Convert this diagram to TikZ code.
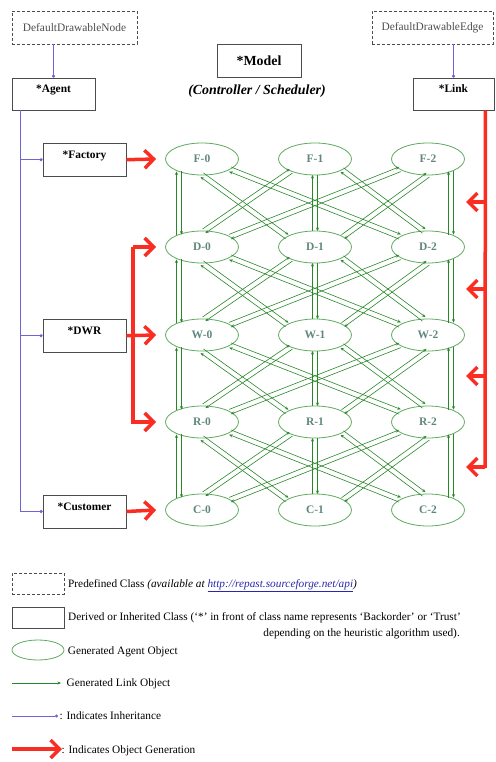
\documentclass[tikz,border=0pt]{standalone}
\usepackage{fontspec}
\setmainfont{Liberation Serif}
\usetikzlibrary{arrows.meta,calc,shapes.geometric}
\definecolor{lgreen}{RGB}{40,135,40}
\definecolor{egreen}{RGB}{95,170,95}
\definecolor{lbl}{RGB}{95,135,125}
\definecolor{inhblue}{RGB}{110,100,215}
\definecolor{genred}{RGB}{250,45,35}
\definecolor{urlblue}{RGB}{40,40,170}
\begin{document}
\begin{tikzpicture}[x=1pt,y=-1pt,
  cls/.style={draw=black!70, line width=0.8pt, inner sep=0pt, text height=7.5pt, text depth=9.5pt, font=\fontsize{11.4}{13}\selectfont\bfseries},
  pre/.style={draw=black!70, dash pattern=on 3pt off 2pt, line width=0.8pt, inner sep=0pt, font=\fontsize{11.4}{13}\selectfont, text=black!70},
  obj/.style={ellipse, draw=egreen, line width=0.8pt, minimum width=73pt, minimum height=32pt, inner sep=0pt, text=lbl, font=\fontsize{11.5}{13}\selectfont\bfseries},
  link/.style={draw=lgreen, line width=0.6pt, -{Stealth[length=3.5pt,width=3pt]}},
  inh/.style={draw=inhblue, line width=0.8pt, -{Circle[length=3pt]}},
  genline/.style={draw=genred, line width=3.5pt},
  gen/.style={draw=genred, line width=3.5pt, -{Straight Barb[length=9pt,width=18pt]}},
  lg/.style={font=\fontsize{11.3}{13}\selectfont, inner sep=0pt}
]
\useasboundingbox (0,0) rectangle (495,762);

% class boxes
\node[pre, minimum width=125pt, minimum height=33pt] (ddn) at (74.5,27.5) {DefaultDrawableNode};
\node[pre, minimum width=121pt, minimum height=33pt] (dde) at (432.5,27.5) {DefaultDrawableEdge};
\node[cls, minimum width=83pt, minimum height=32pt] (agent) at (53.5,94) {*Agent};
\node[cls, minimum width=81pt, minimum height=32pt] (link) at (453.5,94) {*Link};
\node[draw=black!70, line width=0.8pt, inner sep=0pt, minimum width=84pt, minimum height=33pt, font=\fontsize{13.9}{16}\selectfont\bfseries] (model) at (259,60.5) {*Model};
\node[inner sep=0pt, font=\fontsize{13.9}{16}\selectfont\bfseries\itshape] (ctrl) at (257,91) {(Controller / Scheduler)};
\node[cls, minimum width=83pt, minimum height=33pt] (factory) at (84.5,159.7) {*Factory};
\node[cls, minimum width=83pt, minimum height=33pt] (dwr) at (84.5,335.7) {*DWR};
\node[cls, minimum width=83pt, minimum height=33pt] (customer) at (84.5,511.5) {*Customer};

% agent objects
\foreach \r/\y in {F/159, D/247, W/335, R/422, C/510} {
  \foreach \c/\x in {0/202, 1/315, 2/428} {
    \node[obj] (\r\c) at (\x,\y) {\r-\c};
  }
}

% link objects
\foreach \u/\l in {F/D, D/W, W/R, R/C} {
  \foreach \i/\j/\ux/\lx in {0/0/-23/-23, 0/1/0/-28, 0/2/28/-28, 1/0/-24/2, 1/1/0/0, 1/2/27/-4, 2/0/-28/28, 2/1/0/28, 2/2/23/23} {
    \pgfmathsetmacro\uy{16*sqrt(1-((\ux)*(\ux))/1332)}
    \pgfmathsetmacro\ly{-16*sqrt(1-((\lx)*(\lx))/1332)}
    \coordinate (A) at ($(\u\i)+(\ux,\uy)$);
    \coordinate (B) at ($(\l\j)+(\lx,\ly)$);
    \draw[link] ($(A)!2.5pt!90:(B)$) -- ($(B)!2.5pt!-90:(A)$);
    \draw[link] ($(B)!2.5pt!90:(A)$) -- ($(A)!2.5pt!-90:(B)$);
  }
}

% inheritance
\draw[inh] (agent.north |- ddn.south) -- (agent.north);
\draw[inh] (link.north |- dde.south) -- (link.north);
\coordinate (trunk) at ([xshift=9pt]agent.south west);
\draw[inh] (trunk) |- (customer.west);
\draw[inh] (trunk |- factory.west) -- (factory.west);
\draw[inh] (trunk |- dwr.west) -- (dwr.west);

% object generation
\draw[gen] (factory.east) -- ([xshift=-9pt]F0.west);
\draw[gen] (dwr.east) -- ([xshift=-9pt]W0.west);
\draw[gen] (customer.east) -- ([xshift=-9pt]C0.west);
\coordinate (brk) at (133,247);
\draw[gen] (brk) -- ([xshift=-9pt]D0.west);
\draw[gen] (brk) |- ([xshift=-9pt]R0.west);
\coordinate (lnk) at ([xshift=-9pt]link.south east);
\coordinate (lnkend) at (485,468);
\draw[genline] (lnk) -- (lnkend);
\foreach \y [count=\k] in {202,289,376,467} {
  \coordinate (gs\k) at (485,\y);
  \coordinate (ge\k) at (466,\y);
  \draw[gen] (gs\k) -- (ge\k);
}

% legend
\node[pre, minimum width=52pt, minimum height=21pt] (lgpre) at (38,583.5) {};
\node[lg, anchor=base west] (tpre) at (68,587.5) {Predefined Class \textit{(available at \textcolor{urlblue}{\underline{http://repast.sourceforge.net/api}})}};
\node[draw=black!70, line width=0.8pt, inner sep=0pt, minimum width=52pt, minimum height=21pt] (lgcls) at (38,617.5) {};
\node[lg, anchor=base west] (tcls1) at (68,620.7) {Derived or Inherited Class (‘*’ in front of class name represents ‘Backorder’ or ‘Trust’};
\node[lg, anchor=base east] (tcls2) at (460,636.7) {depending on the heuristic algorithm used).};
\node[obj, minimum width=52pt, minimum height=20pt] (lgobj) at (38,650) {};
\node[lg, anchor=base west] (tobj) at (67.7,654) {Generated Agent Object};
\coordinate (lgl1) at (12,683);
\coordinate (lgl2) at (61,683);
\draw[link] (lgl1) -- (lgl2);
\node[lg, anchor=base west] (tlnk) at (66.5,686.5) {Generated Link Object};
\coordinate (lgi1) at (12,716);
\coordinate (lgi2) at (58,716);
\draw[inh] (lgi1) -- (lgi2);
\node[lg, anchor=base west] (tinh) at (59.5,719.5) {: Indicates Inheritance};
\coordinate (lgg1) at (12,749);
\coordinate (lgg2) at (62,749);
\draw[gen] (lgg1) -- (lgg2);
\node[lg, anchor=base west] (tgen) at (61.5,753) {: Indicates Object Generation};
\end{tikzpicture}
\end{document}
